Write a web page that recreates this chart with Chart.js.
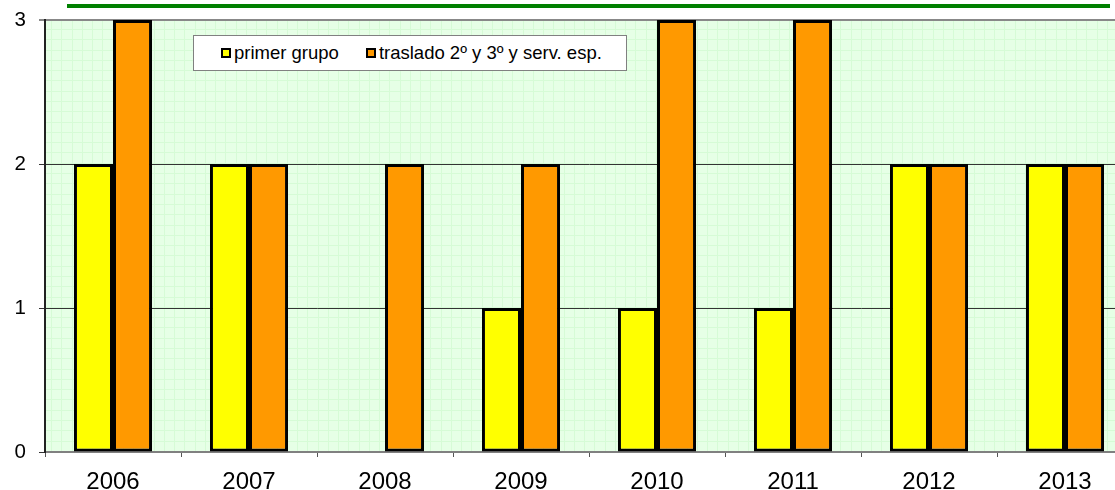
<!DOCTYPE html>
<html>
<head>
<meta charset="utf-8">
<script src="https://cdn.jsdelivr.net/npm/chart.js@4"></script>
<style>
  html, body { margin: 0; padding: 0; background: #fff; overflow: hidden; }
  #wrap { position: relative; width: 1133px; height: 490px; }
  #topline { position: absolute; left: 67px; top: 4px; width: 1043px; height: 4px; background: #008000; }
  #legend {
    position: absolute; left: 193px; top: 35px; width: 432px; height: 34px;
    background: #fff; border: 1px solid #808080;
    font-family: Arial, "Liberation Sans", sans-serif; font-size: 18.5px; color: #000;
    display: flex; align-items: center;
  }
  #legend span.item { display: flex; align-items: center; }
  #legend i { display: inline-block; width: 6px; height: 6px; border: 2px solid #000; margin-right: 3px; }
</style>
</head>
<body>
<div id="wrap">
  <canvas id="chart" width="1133" height="490"></canvas>
  <div id="topline"></div>
  <div id="legend"></div>
</div>
<script>
const years = ['2006', '2007', '2008', '2009', '2010', '2011', '2012', '2013'];
const primerGrupo = [2, 2, 0, 1, 1, 1, 2, 2];
const traslado = [3, 2, 2, 2, 3, 3, 2, 2];
const seriesNames = ['primer grupo', 'traslado 2º y 3º y serv. esp.'];
const seriesColors = ['#ffff00', '#ff9900'];

// legend box (html)
const legend = document.getElementById('legend');
const legendGaps = [27, 27];
seriesNames.forEach((name, i) => {
  const item = document.createElement('span');
  item.className = 'item';
  item.style.marginLeft = legendGaps[i] + 'px';
  const sw = document.createElement('i');
  sw.style.background = seriesColors[i];
  item.appendChild(sw);
  item.appendChild(document.createTextNode(name));
  legend.appendChild(item);
});

// light green patterned plot background
const plotBackground = {
  id: 'plotBackground',
  beforeDraw(chart) {
    const { ctx, chartArea: a } = chart;
    ctx.save();
    ctx.fillStyle = '#e6ffe6';
    ctx.fillRect(a.left, a.top, a.right - a.left, a.bottom - a.top);
    ctx.strokeStyle = '#d6fbd6';
    ctx.lineWidth = 1;
    ctx.beginPath();
    for (let x = a.left + 6; x < a.right; x += 10.25) {
      ctx.moveTo(Math.round(x) + 0.5, a.top);
      ctx.lineTo(Math.round(x) + 0.5, a.bottom);
    }
    for (let y = a.top + 9; y < a.bottom; y += 10.29) {
      ctx.moveTo(a.left, Math.round(y) + 0.5);
      ctx.lineTo(a.right, Math.round(y) + 0.5);
    }
    ctx.stroke();
    ctx.restore();
  }
};

const family = 'Arial, "Liberation Sans", sans-serif';

new Chart(document.getElementById('chart').getContext('2d'), {
  type: 'bar',
  data: {
    labels: years,
    datasets: [
      { label: seriesNames[0], data: primerGrupo, backgroundColor: seriesColors[0] },
      { label: seriesNames[1], data: traslado, backgroundColor: seriesColors[1] }
    ]
  },
  options: {
    responsive: false,
    animation: false,
    layout: { padding: { top: 20, left: 0, right: 0, bottom: 0 } },
    datasets: {
      bar: {
        borderColor: '#000',
        borderWidth: 3,
        borderSkipped: false,
        categoryPercentage: 0.574,
        barPercentage: 1
      }
    },
    plugins: {
      legend: { display: false },
      tooltip: { enabled: false }
    },
    scales: {
      x: {
        afterFit: (s) => { s.height = 38; s.paddingLeft = 0; s.paddingRight = 0; },
        grid: { offset: true, drawOnChartArea: false, color: '#555555', tickLength: 5 },
        border: { color: '#808080', width: 2 },
        ticks: { color: '#000', font: { family: family, size: 24 }, padding: 11 }
      },
      y: {
        min: 0,
        max: 3,
        afterFit: (s) => { s.width = 45; s.paddingTop = 0; s.paddingBottom = 0; },
        ticks: { stepSize: 1, color: '#000', font: { family: family, size: 20.5 }, padding: 13 },
        grid: {
          tickLength: 6,
          color: (c) => (c.tick && c.tick.value === 3 ? '#888888' : '#333333'),
          lineWidth: (c) => (c.tick && c.tick.value === 3 ? 2 : 1)
        },
        border: { color: '#222222', width: 2 }
      }
    }
  },
  plugins: [plotBackground]
});
</script>
</body>
</html>
